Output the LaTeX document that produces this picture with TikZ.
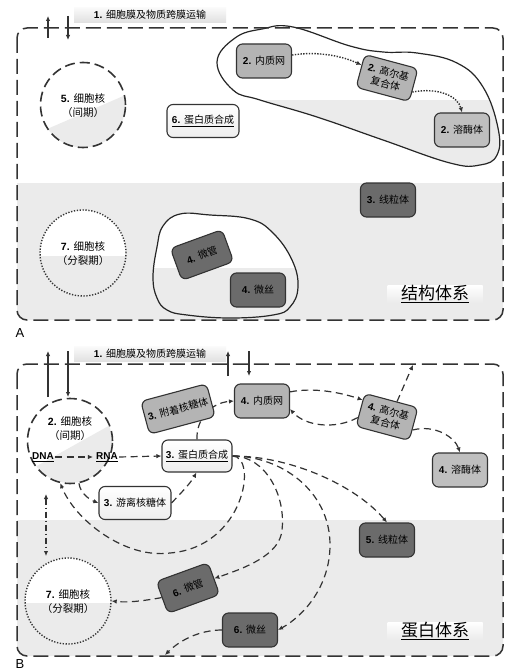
\documentclass[tikz,border=0pt]{standalone}
\usepackage{fontspec}
\setmainfont{Liberation Sans}
\newfontfamily\cjk{Noto Sans CJK SC}
\usetikzlibrary{arrows.meta}

\definecolor{bandgray}{HTML}{EBEBEB}
\definecolor{midgray}{HTML}{B4B4B4}
\definecolor{darkorgan}{HTML}{6B6B6B}
\definecolor{edgecol}{HTML}{333333}

\newcommand{\zh}[1]{{\cjk #1}}
\newcommand{\nb}[1]{\textbf{#1}}

\begin{document}
\begin{tikzpicture}[x=1pt,y=-1pt,
  >={Latex[length=5pt,width=4.5pt]},
  organelle/.style={draw=edgecol, line width=1.1pt, rounded corners=6pt,
    minimum width=55pt, minimum height=34pt, inner sep=1pt, align=center,
    font=\fontsize{10}{12}\selectfont},
  midorg/.style={organelle, fill=midgray},
  darkorg/.style={organelle, fill=darkorgan},
  whiteorg/.style={organelle, top color=white, bottom color=gray!14,
    minimum width=72pt, minimum height=33pt},
  flow/.style={->, line width=1.2pt, draw=edgecol, dash pattern=on 7pt off 4.5pt},
  dotflow/.style={->, line width=1.4pt, draw=edgecol, dash pattern=on 1.4pt off 1.4pt},
  membrane/.style={line width=1.5pt, draw=edgecol, dash pattern=on 15pt off 6pt,
    rounded corners=10pt},
  transport/.style={->, line width=1.3pt, draw=edgecol},
  titlebox/.style={top color=gray!4, bottom color=gray!24, minimum width=152pt,
    minimum height=15pt, inner sep=0pt, font=\fontsize{10}{11}\selectfont},
  sysbox/.style={top color=white, bottom color=gray!16, minimum width=95pt,
    minimum height=18pt, inner sep=0pt, font=\fontsize{17}{18}\selectfont},
  nucdash/.style={circle, draw=edgecol, line width=1.6pt, dash pattern=on 10pt off 5pt,
    minimum size=85pt, inner sep=0pt},
  nucdot/.style={circle, draw=edgecol, line width=1.4pt, dash pattern=on 1.3pt off 1.6pt,
    minimum size=86pt, inner sep=0pt},
  nuctext/.style={align=center, font=\fontsize{10.5}{14}\selectfont},
  panel/.style={font=\fontsize{13}{14}\selectfont}
]
\useasboundingbox (0,0) rectangle (511,671);
\fill[white] (0,0) rectangle (511,671);

% ---------------- Panel A: structural system ----------------
\begin{scope}
  \clip[rounded corners=10pt] (17,28) rectangle (503,320);
  \fill[bandgray] (0,183) rectangle (511,330);
\end{scope}

% endomembrane region
\def\blobA{plot[smooth cycle, tension=0.7] coordinates {(262,29) (293,27) (350,46)
  (383,52) (417,53) (457,63) (483,87) (498,128) (497,155) (480,165) (450,163)
  (383,140) (317,117) (260,100) (233,90) (217,62) (235,38)}}
\fill[white] \blobA;
\begin{scope}
  \clip \blobA;
  \fill[bandgray] (200,100) rectangle (511,200);
\end{scope}
\draw[line width=1.2pt, draw=black!85] \blobA;

% cytoskeleton region
\def\blobB{plot[smooth cycle, tension=0.7] coordinates {(163,226) (180,214) (210,215)
  (250,219) (273,233) (292,260) (298,287) (290,307) (273,315) (230,318) (187,315)
  (167,310) (157,298) (153,277) (157,247)}}
\fill[white] \blobB;
\begin{scope}
  \clip \blobB;
  \fill[bandgray] (140,268) rectangle (310,330);
\end{scope}
\draw[line width=1.2pt, draw=black!85] \blobB;

% nucleus fills
\begin{scope}
  \clip (83,105) circle (42.5);
  \fill[bandgray] (38,133) -- (128,94) -- (128,150) -- (38,150) -- cycle;
\end{scope}
\begin{scope}
  \clip (83,253) circle (43);
  \fill[white] (30,200) rectangle (140,256);
\end{scope}

\draw[membrane] (17,28) rectangle (503,320);

\node[titlebox] (titleA) at (150,15) {\nb{1.} \zh{细胞膜及物质跨膜运输}};
\coordinate (inA1) at (48,38);
\coordinate (outA1) at (48,16);
\coordinate (inA2) at (68,16);
\coordinate (outA2) at (68,40);
\draw[transport] (inA1) -- (outA1);
\draw[transport] (inA2) -- (outA2);

\node[nucdash] (nucA) at (83,105) {};
\node[nuctext] at (83,106) {\nb{5.} \zh{细胞核}\\\zh{（间期）}};
\node[nucdot] (nucAm) at (83,253) {};
\node[nuctext] at (83,254) {\nb{7.} \zh{细胞核}\\\zh{（分裂期）}};

\node[whiteorg] (psynA) at (203,121) {\underline{\nb{6.} \zh{蛋白质合成}}};
\node[midorg] (erA) at (264,61) {\nb{2.} \zh{内质网}};
\node[midorg, rotate=-15] (golgiA) at (387,78) {\nb{2.} \zh{高尔基}\\\zh{复合体}};
\node[midorg, fill=midgray!85] (lysoA) at (462,130) {\nb{2.} \zh{溶酶体}};
\node[darkorg] (mitoA) at (388,200) {\nb{3.} \zh{线粒体}};
\node[darkorg, rotate=20] (mtA) at (202,255) {\nb{4.} \zh{微管}};
\node[darkorg] (mfA) at (258,290) {\nb{4.} \zh{微丝}};

\draw[dotflow] (erA.12) .. controls (318,51) and (342,56) .. (golgiA.168);
\draw[dotflow] (golgiA.-14) .. controls (440,87) and (458,97) .. (lysoA.north);

\node[sysbox] (sysA) at (435,294) {\underline{\zh{结构体系}}};
\node[panel] (labA) at (20,333) {A};

% ---------------- Panel B: protein system ----------------
\begin{scope}
  \clip[rounded corners=10pt] (17,364) rectangle (503,656);
  \fill[bandgray] (0,520) rectangle (511,670);
\end{scope}
\begin{scope}
  \clip (70,441) circle (42);
  \fill[bandgray] (26,472) -- (114,423) -- (114,486) -- (26,486) -- cycle;
\end{scope}
\begin{scope}
  \clip (68,601) circle (43);
  \fill[white] (20,550) rectangle (120,603);
\end{scope}

\draw[membrane] (17,364) rectangle (503,656);

\node[titlebox] (titleB) at (150,354) {\nb{1.} \zh{细胞膜及物质跨膜运输}};

\node[nucdash] (nucB) at (70,441) {};
\node[nuctext] at (70,429) {\nb{2.} \zh{细胞核}\\\zh{（间期）}};
\node[font=\bfseries\fontsize{10}{12}\selectfont, inner sep=1pt] (dna) at (43,457) {\underline{DNA}};
\node[font=\bfseries\fontsize{10}{12}\selectfont, inner sep=1pt] (rna) at (107,457) {\underline{RNA}};
\node[nucdot] (nucBm) at (68,601) {};
\node[nuctext] at (68,602) {\nb{7.} \zh{细胞核}\\\zh{（分裂期）}};

\node[whiteorg, minimum width=70pt, minimum height=32pt] (psynB) at (197,456) {\underline{\nb{3.} \zh{蛋白质合成}}};
\node[midorg] (erB) at (262,401) {\nb{4.} \zh{内质网}};

% route from synthesis through the bound ribosome to the ER
\draw[flow] (psynB.north) .. controls (196,420) and (210,403) .. (erB.west);
\node[midorg, rotate=15, minimum width=68pt] (riboB) at (178,409) {\nb{3.} \zh{附着核糖体}};

\node[midorg, rotate=-15] (golgiB) at (387,417) {\nb{4.} \zh{高尔基}\\\zh{复合体}};
\node[midorg, fill=midgray!85] (lysoB) at (460,470) {\nb{4.} \zh{溶酶体}};
\node[whiteorg] (riboF) at (135,503) {\nb{3.} \zh{游离核糖体}};
\node[darkorg] (mitoB) at (387,540) {\nb{5.} \zh{线粒体}};
\node[darkorg, rotate=20] (mtB) at (188,588) {\nb{6.} \zh{微管}};
\node[darkorg] (mfB) at (250,630) {\nb{6.} \zh{微丝}};

\node[sysbox] (sysB) at (435,631) {\underline{\zh{蛋白体系}}};
\node[panel] (labB) at (20,664) {B};

% membrane transport
\coordinate (inB1) at (48,397);
\coordinate (outB1) at (48,351);
\coordinate (inB2) at (68,351);
\coordinate (outB2) at (68,397);
\coordinate (inB3) at (228,376);
\coordinate (outB3) at (228,351);
\coordinate (inB4) at (249,351);
\coordinate (outB4) at (249,376);
\draw[transport] (inB1) -- (outB1);
\draw[transport] (inB2) -- (outB2);
\draw[transport] (inB3) -- (outB3);
\draw[transport] (inB4) -- (outB4);
\coordinate (secrete) at (413,365);
\coordinate (cortex) at (165,655);

% transcription and translation
\draw[flow] (dna.east) -- ([xshift=-2pt]rna.west);
\draw[flow] (rna.east) -- (psynB.west);
\draw[flow] (nucB.-78) .. controls (80,492) and (88,499) .. (riboF.west);
\draw[flow] (riboF.east) .. controls (180,494) and (190,484) .. (psynB.-92);

% secretory pathway
\draw[flow] (erB.18) .. controls (315,387) and (342,393) .. (golgiB.160);
\draw[flow] (golgiB.196) .. controls (335,430) and (305,426) .. (erB.-16);
\draw[flow] (golgiB.72) .. controls (403,388) and (408,376) .. (secrete);
\draw[flow] (golgiB.-12) .. controls (436,424) and (455,438) .. (lysoB.north);

% distribution of newly made proteins
\draw[flow] (psynB.east) .. controls (258,456) and (245,547) .. (170,553)
  .. controls (125,559) and (75,520) .. (nucB.-103);
\draw[flow] (psynB.east) .. controls (265,456) and (286,495) .. (282,530)
  .. controls (280,555) and (245,568) .. (mtB.east);
\draw[flow] (psynB.east) .. controls (280,456) and (330,490) .. (330,545)
  .. controls (330,585) and (305,615) .. (mfB.east);
\draw[flow] (psynB.east) .. controls (290,456) and (355,485) .. (mitoB.north);
\draw[flow] (mtB.west) .. controls (148,600) and (130,603) .. (nucBm.east);
\draw[flow] (mfB.west) .. controls (200,630) and (180,640) .. (cortex);

% mitotic transition of the nucleus
\coordinate (divtop) at (46,494);
\coordinate (divbot) at (46,556);
\draw[<->, line width=1.1pt, draw=edgecol, dash pattern=on 6pt off 3pt on 1pt off 3pt] (divtop) -- (divbot);
\end{tikzpicture}
\end{document}
